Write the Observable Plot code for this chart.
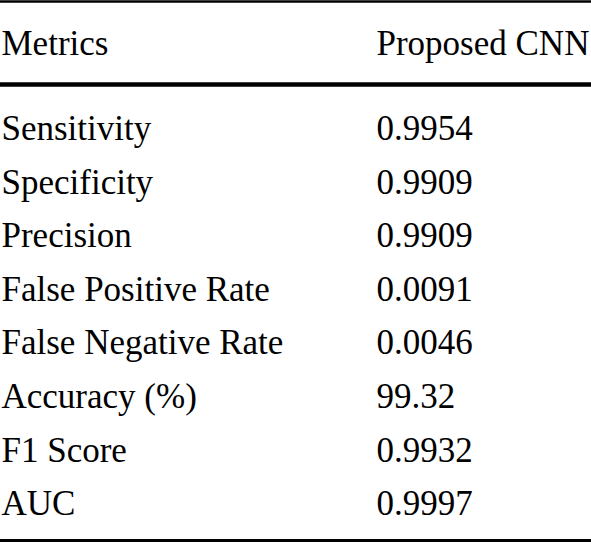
<!DOCTYPE html>
<html>
<head>
<meta charset="utf-8">
<script src="https://cdn.jsdelivr.net/npm/d3@7"></script>
<script src="https://cdn.jsdelivr.net/npm/@observablehq/plot@0.6"></script>
<style>
  html, body { margin: 0; padding: 0; background: #fff; }
  #chart svg { display: block; }
</style>
</head>
<body>
<div id="chart"></div>
<script>
// Data
const headers = ["Metrics", "Proposed CNN"];
const metrics = ["Sensitivity", "Specificity", "Precision", "False Positive Rate",
  "False Negative Rate", "Accuracy (%)", "F1 Score", "AUC"];
const values = ["0.9954", "0.9909", "0.9909", "0.0091", "0.0046", "99.32", "0.9932", "0.9997"];

// Layout (row units: row i baseline)
const headerRow = -1.585;
const rules = [
  {y: -2.584, w: 2.5},
  {y: -1.035, w: 4.5},
  {y: 7.47, w: 3}
];

const cells = [];
headers.forEach((h, c) => cells.push({col: c, row: headerRow, text: h}));
metrics.forEach((m, i) => {
  cells.push({col: 0, row: i, text: m});
  cells.push({col: 1, row: i, text: values[i]});
});

const W = 591, H = 543;
const chart = Plot.plot({
  width: W,
  height: H,
  margin: 0,
  x: {domain: [0, 1], range: [1, 376], axis: null},
  y: {domain: [-2.6026, 7.5280], range: [0, H], axis: null},
  marks: [
    ...rules.map(r => Plot.ruleY([r.y], {stroke: "black", strokeWidth: r.w})),
    Plot.text(cells, {
      x: "col", y: "row", text: "text",
      textAnchor: "start", lineAnchor: "bottom",
      fontFamily: "'Liberation Serif', 'Times New Roman', serif", fontSize: 35, fill: "black"
    })
  ]
});
document.getElementById("chart").appendChild(chart);
</script>
</body>
</html>
